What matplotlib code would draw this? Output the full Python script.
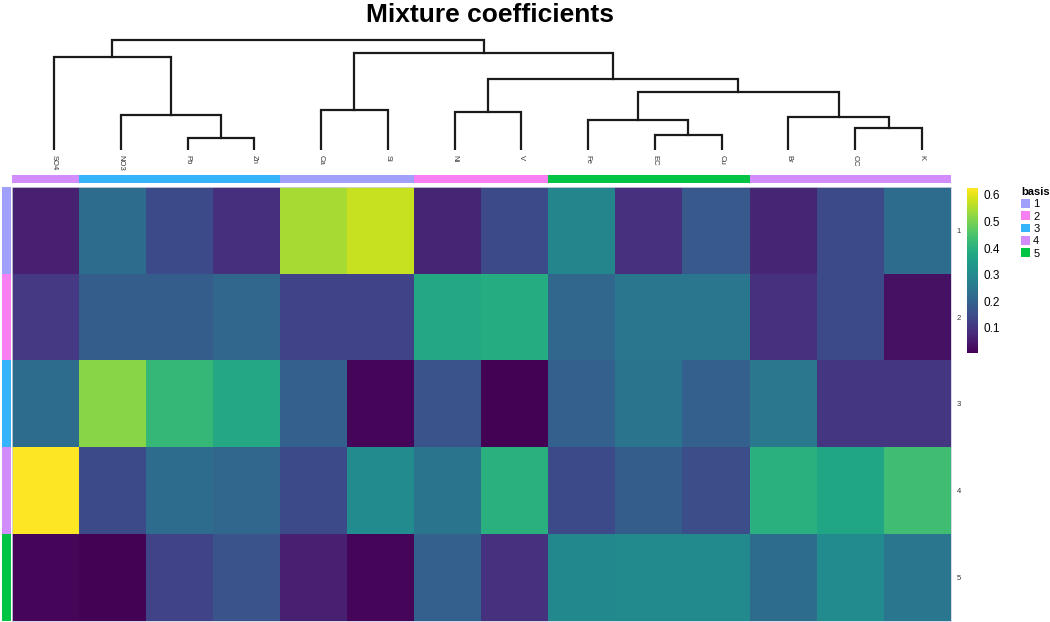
import numpy as np
import matplotlib
matplotlib.use("Agg")
import matplotlib.pyplot as plt
from matplotlib.colors import ListedColormap
from matplotlib.patches import Patch

plt.rcParams["font.family"] = ["Liberation Sans", "DejaVu Sans"]

# ---- data ----
columns = ["SO4", "NO3", "Pb", "Zn", "Ca", "Si", "Ni", "V", "Fe", "EC", "Cu", "Br", "OC", "K"]
rows = ["1", "2", "3", "4", "5"]
col_basis = [4, 3, 3, 3, 1, 1, 2, 2, 5, 5, 5, 4, 4, 4]
row_basis = [1, 2, 3, 4, 5]

coef_1 = [0.06, 0.225, 0.145, 0.09, 0.545, 0.575, 0.07, 0.145, 0.29, 0.095, 0.18, 0.07, 0.145, 0.225]
coef_2 = [0.11, 0.19, 0.19, 0.21, 0.13, 0.13, 0.38, 0.39, 0.21, 0.25, 0.25, 0.095, 0.145, 0.035]
coef_3 = [0.225, 0.515, 0.42, 0.38, 0.195, 0.015, 0.165, 0.01, 0.195, 0.245, 0.195, 0.255, 0.105, 0.105]
coef_4 = [0.625, 0.145, 0.225, 0.21, 0.145, 0.305, 0.245, 0.40, 0.145, 0.19, 0.155, 0.40, 0.37, 0.435]
coef_5 = [0.015, 0.01, 0.13, 0.165, 0.06, 0.015, 0.195, 0.095, 0.295, 0.30, 0.30, 0.225, 0.305, 0.25]

# column dendrogram: (left node, right node, height); leaves are 0..13, merges get 14, 15, ...
merges = [
    (2, 3, 12),
    (9, 10, 15),
    (12, 13, 22),
    (8, 15, 30),
    (11, 16, 33),
    (1, 14, 35),
    (6, 7, 38),
    (4, 5, 40),
    (17, 18, 58),
    (20, 22, 71),
    (0, 19, 93),
    (21, 23, 97),
    (24, 25, 110),
]

basis_colors = ["#a0a0fb", "#f77ff2", "#36b4fb", "#d38cfc", "#00c443"]

# ---- figure ----
W, H = 1050, 622
fig = plt.figure(figsize=(W / 100, H / 100), dpi=100)


def px_axes(x0, y0, x1, y1):
    # axes from pixel box (top-left origin)
    return fig.add_axes([x0 / W, 1 - y1 / H, (x1 - x0) / W, (y1 - y0) / H])


mat = np.array([coef_1, coef_2, coef_3, coef_4, coef_5])
vmin, vmax = 0.006, 0.626

# heatmap
ax = px_axes(12, 187, 951, 621)
im = ax.imshow(mat, cmap="viridis", vmin=vmin, vmax=vmax, aspect="auto", interpolation="nearest")
ax.set_xticks([])
ax.yaxis.tick_right()
ax.set_yticks(range(len(rows)))
ax.set_yticklabels(rows, fontsize=5.5, color="#333333")
ax.tick_params(axis="y", length=0, pad=4)
for s in ax.spines.values():
    s.set_color("#d0d0e0")
    s.set_linewidth(0.6)

bcmap = ListedColormap(basis_colors)

# column annotation
axc = px_axes(12, 175, 951, 183)
axc.imshow(np.array([col_basis]) - 1, cmap=bcmap, vmin=0, vmax=4, aspect="auto", interpolation="nearest")
axc.axis("off")

# row annotation
axr = px_axes(2, 187, 10, 621)
axr.imshow(np.array([row_basis]).T - 1, cmap=bcmap, vmin=0, vmax=4, aspect="auto", interpolation="nearest")
axr.axis("off")

# dendrogram
axd = px_axes(20.6, 38, 955.4, 150)
n = len(columns)
pos = {i: float(i) for i in range(n)}
hgt = {i: 0.0 for i in range(n)}
for k, (a, b, h) in enumerate(merges):
    node = n + k
    axd.plot([pos[a], pos[a], pos[b], pos[b]], [hgt[a], h, h, hgt[b]],
             color="#1a1a1a", lw=1.6, solid_joinstyle="miter")
    pos[node] = (pos[a] + pos[b]) / 2
    hgt[node] = h
axd.set_xlim(-0.5, n - 0.5)
axd.set_ylim(0, 112)
axd.axis("off")
for i, name in enumerate(columns):
    axd.text(i, -5, name, rotation=270, ha="center", va="top", fontsize=5.5, color="#333333")

# colorbar
cax = px_axes(967, 188, 978, 353)
cb = fig.colorbar(im, cax=cax, ticks=[0.1, 0.2, 0.3, 0.4, 0.5, 0.6])
cb.outline.set_visible(False)
cb.ax.tick_params(length=0, labelsize=8.5, pad=4)

# legend
handles = [Patch(facecolor=c, edgecolor="none", label=str(i + 1)) for i, c in enumerate(basis_colors)]
leg = fig.legend(handles=handles, title="basis", loc="upper left",
                 bbox_to_anchor=(1012 / W, 1 - 178 / H), frameon=False, fontsize=8,
                 handlelength=0.8, handleheight=0.8, handletextpad=0.3, labelspacing=0.2,
                 borderpad=0.3, alignment="left")
leg.get_title().set_fontweight("bold")
leg.get_title().set_fontsize(8)

fig.text(490 / W, 1 - 15 / H, "Mixture coefficients", ha="center", va="center",
         fontsize=19, fontweight="bold")

fig.savefig("out.png", dpi=100)
